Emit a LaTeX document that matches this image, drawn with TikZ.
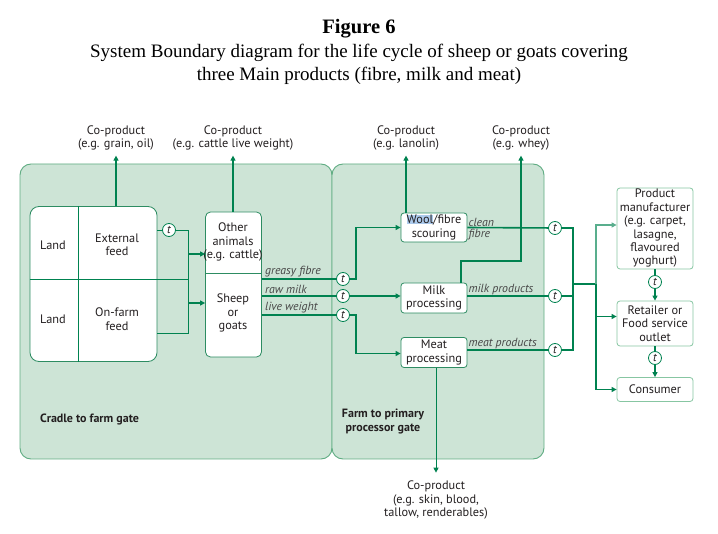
\documentclass[tikz,border=0pt]{standalone}
\usepackage{fontspec}
\setmainfont{Liberation Serif}
\setsansfont{PT Sans}
\usetikzlibrary{arrows.meta,positioning,calc}
\definecolor{zonefill}{RGB}{205,228,214}
\definecolor{zoneline}{RGB}{95,172,130}
\definecolor{flowline}{RGB}{0,130,80}
\definecolor{boxline}{RGB}{45,140,98}
\definecolor{lightline}{RGB}{135,198,162}
\definecolor{inktext}{RGB}{35,31,32}
\definecolor{selblue}{RGB}{172,202,236}
\newcommand\boxfont{\fontsize{12.3}{13.4}\selectfont\sffamily}
\tikzset{
 zone/.style={rectangle,rounded corners=11pt,draw=zoneline,fill=zonefill,line width=0.9pt},
 procbox/.style={rectangle,rounded corners=3pt,draw=boxline,fill=white,line width=0.8pt,align=center,font=\boxfont,text=inktext,inner sep=1pt},
 outbox/.style={procbox,draw=lightline},
 plain/.style={align=center,font=\boxfont,text=inktext,inner sep=1pt},
 tnode/.style={circle,draw=flowline,fill=white,line width=0.8pt,inner sep=0pt,minimum size=13pt,font=\fontsize{11.5}{12}\selectfont\sffamily\itshape,text=inktext},
 flowtag/.style={font=\fontsize{11.8}{12}\selectfont\sffamily\itshape,text=black!72,inner sep=1pt},
 zonetag/.style={plain,font=\fontsize{12}{13.4}\selectfont\sffamily\bfseries},
 link/.style={line width=1.6pt,draw=flowline},
 thinlink/.style={line width=0.9pt,draw=flowline},
 arrow/.style={-{Triangle[length=5pt,width=5pt]},line width=1.6pt,draw=flowline},
 thinarrow/.style={arrow,line width=0.9pt}}

\begin{document}
\begin{tikzpicture}[x=1pt,y=-1pt]
\useasboundingbox (0,0) rectangle (718,534);
\node[font=\fontsize{20.5}{22}\selectfont\bfseries,inner sep=0pt] (fig) at (359,29) {Figure 6};
\node[align=center,font=\fontsize{19}{23}\selectfont,inner sep=0pt] (caption) at (359,64.5) {System Boundary diagram for the life cycle of sheep or goats covering\\three Main products (fibre, milk and meat)};

\node[zone,minimum width=312pt,minimum height=295pt] (cradle) at (176,311.5) {};
\node[zone,minimum width=212pt,minimum height=295pt] (primary) at (438,311.5) {};
\node[zonetag,anchor=west] (cradlelbl) at (39,419) {Cradle to farm gate};
\node[zonetag] (primarylbl) at (383,421.5) {Farm to primary\\processor gate};

\node[procbox,minimum width=127pt,minimum height=155pt,rounded corners=9pt] (farm) at (93.5,284) {};
\coordinate (fdiv) at (78,284);
\draw[thinlink] (fdiv|-farm.north) -- (fdiv|-farm.south);
\node[plain] (land1) at (53,245) {Land};
\node[plain] (extfeed) at (117,245) {External\\feed};
\node[plain] (land2) at (53,319) {Land};
\node[plain] (onfarm) at (117,319) {On-farm\\feed};

\node[procbox,minimum width=56pt,minimum height=145pt,rounded corners=5pt] (animals) at (233.5,284.5) {};
\coordinate (adiv) at (233,273);
\draw[thinlink,draw=boxline] (adiv-|animals.west) -- (adiv-|animals.east);
\node[plain] (others) at (233,242) {Other\\animals\\(e.g. cattle)};
\node[plain] (sheep) at (233,313) {Sheep\\or\\goats};

\node[tnode] (tfeed) at (169,230) {t};
\coordinate (jtop) at (188,230); \coordinate (jmid) at (188,279); \coordinate (jbot) at (188,333);
\coordinate (jin1) at (188,254); \coordinate (jin2) at (188,303);
\draw[thinlink] (farm.east|-tfeed) -- (tfeed) -- (jtop) -- (jbot) -- (farm.east|-jbot);
\draw[thinlink] (farm.west|-jmid) -- (jmid);
\draw[arrow] (jin1) -- (jin1-|animals.west); \draw[arrow] (jin2) -- (jin2-|animals.west);

\node[plain] (cpgrain) at (116,138) {Co-product\\(e.g. grain, oil)};
\node[plain] (cpcattle) at (233,138) {Co-product\\(e.g. cattle live weight)};
\node[plain] (cplanolin) at (406,138) {Co-product\\(e.g. lanolin)};
\node[plain] (cpwhey) at (521,138) {Co-product\\(e.g. whey)};
\node[plain] (cpskin) at (436,500) {Co-product\\(e.g. skin, blood,\\tallow, renderables)};
\draw[arrow,shorten >=4pt] (cpgrain|-farm.north) -- (cpgrain);
\draw[arrow,shorten >=4pt] (cpcattle|-animals.north) -- (cpcattle);

\node[procbox,minimum width=66pt,minimum height=29pt] (wool) at (434,227.5) {{\setlength\fboxsep{0pt}\colorbox{selblue}{Wool}}/fibre\\scouring};
\node[procbox,minimum width=66pt,minimum height=30pt] (milk) at (434,298) {Milk\\processing};
\node[procbox,minimum width=66pt,minimum height=30pt] (meat) at (434,352.5) {Meat\\processing};

\node[tnode] (tfib) at (343,279) {t};
\node[tnode] (tmilk) at (343,296) {t};
\node[tnode] (tlive) at (343,315) {t};
\draw[link] (animals.east|-tfib) -- (tfib); \draw[link] (animals.east|-tmilk) -- (tmilk); \draw[link] (animals.east|-tlive) -- (tlive);
\node[flowtag,anchor=south west] (greasy) at (264,278) {greasy fibre};
\node[flowtag,anchor=south west] (rawmilk) at (264,295) {raw milk};
\node[flowtag,anchor=south west] (liveweight) at (264,314) {live weight};
\coordinate (fibbend) at (356,279); \coordinate (meatbend) at (356,315);
\draw[arrow] (tfib) -- (fibbend) |- (wool);
\draw[arrow] (tmilk) -- (tmilk-|milk.west);
\draw[arrow] (tlive) -- (meatbend) |- ([yshift=-1pt]meat.west);

\node[tnode] (twool) at (555,228) {t};
\node[tnode] (tmilkout) at (555,296) {t};
\node[tnode] (tmeatout) at (555,350) {t};
\draw[link] (wool.east) -- (twool);
\draw[link] (tmilkout-|milk.east) -- (tmilkout);
\draw[link] (tmeatout-|meat.east) -- (tmeatout);
\node[flowtag,anchor=south west] (cleanlbl) at (wool.east) {clean};
\node[flowtag,anchor=north west] (fibrelbl) at (wool.east) {fibre};
\node[flowtag,anchor=south west] (milkprod) at (tmilkout-|milk.east) {milk products};
\node[flowtag,anchor=south west] (meatprod) at (tmeatout-|meat.east) {meat products};

\draw[arrow,shorten >=4pt] (cplanolin|-wool.north) -- (cplanolin);
\coordinate (wy1) at (461,261); \coordinate (wy2) at (521,261);
\draw[arrow,shorten >=4pt] (wy1|-milk.north) -- (wy1) -- (wy2) -- (cpwhey);
\draw[thinarrow,shorten >=7pt] (cpskin|-meat.south) -- (cpskin);

\node[outbox,minimum width=76pt,minimum height=81pt] (manuf) at (655,228.5) {Product\\manufacturer\\(e.g. carpet,\\lasagne,\\flavoured\\yoghurt)};
\node[outbox,minimum width=76pt,minimum height=45pt] (retail) at (655,323.5) {Retailer or\\Food service\\outlet};
\node[outbox,minimum width=76pt,minimum height=24pt] (consumer) at (655,389.5) {Consumer};
\coordinate (rtop) at (573,228); \coordinate (rbot) at (573,350); \coordinate (rmid) at (573,284); \coordinate (dist) at (596,284);
\draw[link] (twool) -- (rtop) -- (rbot) -- (tmeatout);
\draw[link] (tmilkout) -- (tmilkout-|rtop);
\draw[link] (rmid) -- (dist);
\draw[arrow,draw=flowline!65,line width=1.2pt] (dist) |- ([yshift=3.5pt]manuf.west);
\draw[arrow] (dist) |- ([yshift=7pt]retail.west);
\draw[arrow] (dist) |- (consumer);
\node[tnode] (tmr) at (655,282) {t};
\node[tnode] (trc) at (655,358) {t};
\draw[link,line width=1.2pt] (manuf) -- (tmr); \draw[arrow,line width=1.2pt] (tmr) -- (retail);
\draw[link,line width=1.2pt] (retail) -- (trc); \draw[arrow,line width=1.2pt] (trc) -- (consumer);
\end{tikzpicture}
\end{document}
